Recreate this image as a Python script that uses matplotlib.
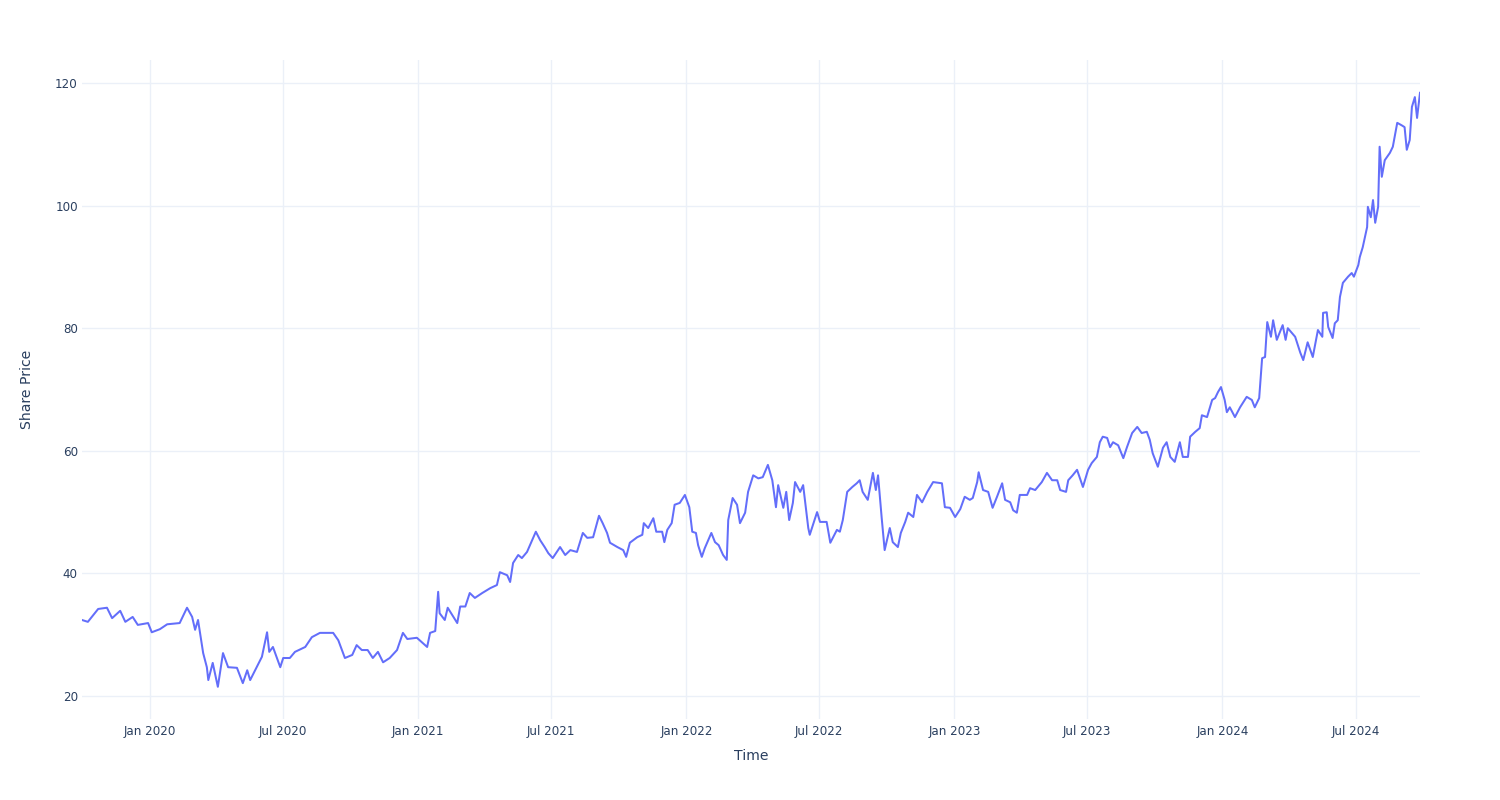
import numpy as np
import pandas as pd
import matplotlib
matplotlib.use('Agg')
import matplotlib.pyplot as plt
import matplotlib.dates as mdates

# ---------------------------------------------------------------------------
# Data (days counted from start_date)
# ---------------------------------------------------------------------------
start_date = '2019-10-01'

days = [
    0, 8, 22, 34, 41, 52, 59, 69, 76, 90, 95, 106, 116, 133, 143, 150, 154, 158,
    165, 170, 172, 178, 185, 192, 199, 211, 219, 225, 229, 245, 252, 255, 260,
    270, 274, 283, 290, 304, 313, 324, 342, 349, 358, 368, 374, 381, 389, 396,
    403, 410, 419, 429, 437, 443, 456, 470, 474, 481, 485, 487, 494, 498, 511,
    515, 522, 528, 535, 545, 556, 565, 569, 579, 583, 587, 594, 599, 606, 613,
    618, 624, 630, 635, 641, 651, 658, 665, 674, 682, 688, 696, 704, 709, 715,
    719, 729, 737, 741, 746, 756, 763, 765, 771, 778, 782, 790, 793, 797, 803,
    807, 814, 821, 827, 831, 836, 839, 844, 848, 857, 862, 867, 873, 878, 880,
    886, 892, 896, 903, 907, 914, 921, 927, 934, 940, 945, 948, 955, 959, 963,
    968, 971, 978, 982, 989, 991, 1001, 1005, 1014, 1019, 1028, 1032, 1036,
    1042, 1049, 1055, 1059, 1063, 1070, 1077, 1081, 1084, 1089, 1093, 1100,
    1104, 1111, 1115, 1121, 1125, 1132, 1137, 1144, 1151, 1159, 1171, 1175,
    1182, 1189, 1196, 1202, 1209, 1213, 1219, 1221, 1227, 1234, 1240, 1246,
    1253, 1257, 1264, 1268, 1273, 1277, 1287, 1291, 1298, 1307, 1314, 1321,
    1328, 1332, 1340, 1343, 1349, 1355, 1359, 1363, 1370, 1375, 1382, 1386,
    1390, 1396, 1400, 1404, 1411, 1418, 1423, 1430, 1437, 1443, 1450, 1454,
    1458, 1465, 1472, 1477, 1482, 1488, 1495, 1499, 1506, 1509, 1516, 1522,
    1525, 1532, 1539, 1543, 1547, 1551, 1556, 1559, 1563, 1570, 1577, 1586,
    1593, 1597, 1603, 1607, 1611, 1614, 1619, 1622, 1627, 1635, 1639, 1642,
    1652, 1659, 1663, 1669, 1676, 1683, 1689, 1690, 1695, 1697, 1703, 1706,
    1710, 1713, 1717, 1724, 1729, 1732, 1738, 1740, 1744, 1750, 1751, 1755,
    1758, 1761, 1765, 1767, 1770, 1774, 1781, 1785, 1791, 1797, 1801, 1804,
    1808, 1811, 1815, 1818, 1822,
]

price = [
    32.4, 32.1, 34.2, 34.4, 32.7, 33.9, 32.1, 32.9, 31.6, 31.9, 30.4, 30.9, 31.7,
    31.9, 34.4, 32.9, 30.8, 32.4, 27.0, 24.7, 22.6, 25.4, 21.5, 27.0, 24.7,
    24.6, 22.1, 24.2, 22.6, 26.4, 30.4, 27.2, 28.0, 24.7, 26.2, 26.2, 27.2,
    28.0, 29.6, 30.3, 30.3, 29.1, 26.2, 26.7, 28.3, 27.5, 27.5, 26.2, 27.2,
    25.5, 26.2, 27.5, 30.3, 29.3, 29.5, 28.0, 30.3, 30.6, 37.0, 33.5, 32.4,
    34.4, 31.9, 34.6, 34.6, 36.8, 36.0, 36.8, 37.6, 38.1, 40.2, 39.7, 38.6,
    41.7, 43.0, 42.5, 43.5, 45.4, 46.8, 45.4, 44.3, 43.3, 42.5, 44.3, 43.0,
    43.8, 43.5, 46.6, 45.8, 45.9, 49.4, 48.2, 46.6, 45.0, 44.3, 43.8, 42.7,
    45.0, 45.9, 46.3, 48.2, 47.4, 49.0, 46.8, 46.8, 45.1, 47.1, 48.2, 51.2,
    51.5, 52.8, 50.8, 46.8, 46.6, 44.6, 42.7, 44.1, 46.6, 45.1, 44.6, 43.0,
    42.2, 48.7, 52.3, 51.2, 48.2, 49.9, 53.3, 56.0, 55.5, 55.7, 57.7, 55.2,
    50.8, 54.4, 50.7, 53.3, 48.7, 51.5, 54.9, 53.3, 54.4, 47.4, 46.3, 50.0,
    48.4, 48.4, 45.0, 47.1, 46.8, 48.7, 53.3, 54.1, 54.7, 55.2, 53.3, 52.0,
    56.4, 53.6, 56.0, 49.0, 43.8, 47.4, 45.1, 44.3, 46.6, 48.4, 49.9, 49.2,
    52.8, 51.6, 53.3, 54.9, 54.7, 50.8, 50.7, 49.2, 50.5, 52.5, 52.0, 52.3,
    54.9, 56.5, 53.6, 53.3, 50.7, 52.5, 54.7, 52.0, 51.6, 50.3, 49.9, 52.8,
    52.8, 53.9, 53.6, 54.9, 56.4, 55.2, 55.2, 53.6, 53.3, 55.2, 56.0, 56.9,
    55.5, 54.1, 56.9, 58.0, 59.0, 61.4, 62.3, 62.1, 60.6, 61.4, 60.9, 58.8,
    60.6, 62.9, 63.9, 62.9, 63.1, 61.8, 59.6, 57.4, 60.5, 61.4, 59.0, 58.2,
    61.4, 59.0, 59.0, 62.3, 63.1, 63.7, 65.8, 65.5, 68.3, 68.6, 69.6, 70.4,
    68.3, 66.3, 67.1, 65.5, 67.1, 68.8, 68.3, 67.1, 68.6, 75.1, 75.3, 81.0,
    78.6, 81.3, 78.1, 80.5, 78.1, 80.0, 78.6, 76.0, 74.8, 77.7, 75.3, 79.7,
    78.6, 82.5, 82.6, 80.2, 78.4, 80.8, 81.3, 85.1, 87.4, 88.4, 89.0, 88.4,
    90.3, 91.6, 93.2, 96.5, 99.8, 98.1, 100.9, 97.2, 99.8, 109.6, 104.7,
    107.4, 108.6, 109.6, 113.5, 113.1, 112.8, 109.1, 110.7, 116.1, 117.7,
    114.3, 118.4,
]

y_ticks = [20, 40, 60, 80, 100, 120]

# ---------------------------------------------------------------------------
# Plot (plotly_white look)
# ---------------------------------------------------------------------------
FONT_COLOR = '#2a3f5f'
GRID_COLOR = '#ebf0f8'
LINE_COLOR = '#636efa'

plt.rcParams.update({
    'font.family': ['DejaVu Sans'],
    'font.size': 8.6,
    'text.color': FONT_COLOR,
    'axes.labelcolor': FONT_COLOR,
    'xtick.color': FONT_COLOR,
    'ytick.color': FONT_COLOR,
})

dates = pd.Timestamp(start_date) + pd.to_timedelta(days, unit='D')

fig = plt.figure(figsize=(15, 8), dpi=100)
ax = fig.add_axes([82 / 1500, 1 - 719 / 800, (1420 - 82) / 1500, (719 - 60) / 800])

ax.plot(dates, price, color=LINE_COLOR, lw=1.45, solid_joinstyle='round')

ax.set_xlim(dates[0], dates[-1])
ax.set_ylim(16.25, 123.75)
ax.set_yticks(y_ticks)

ax.xaxis.set_major_locator(mdates.MonthLocator(bymonth=[1, 7]))
ax.xaxis.set_major_formatter(mdates.DateFormatter('%b %Y'))

ax.grid(True, color=GRID_COLOR, lw=1.0)
ax.set_axisbelow(True)
for s in ax.spines.values():
    s.set_visible(False)
ax.tick_params(axis='both', length=0, labelsize=8.6)
ax.tick_params(axis='x', pad=4)
ax.tick_params(axis='y', pad=3)

ax.set_xlabel('Time', fontsize=10.1, va='center')
ax.xaxis.set_label_coords(0.5, (719 - 756) / 659)
ax.set_ylabel('Share Price', fontsize=10.1, va='center')
ax.yaxis.set_label_coords((27 - 82) / 1338, 0.5)

fig.savefig('out.png', dpi=100, facecolor='white')
